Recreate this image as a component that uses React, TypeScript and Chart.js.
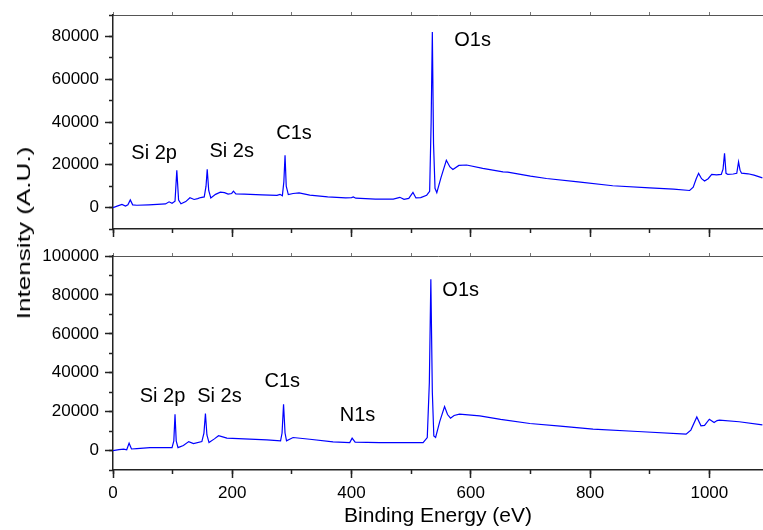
import React, { useEffect, useRef } from "react";
import { Chart, registerables } from "chart.js";

Chart.register(...registerables);

const FONT = '"Liberation Sans", Arial, Helvetica, sans-serif';

// [binding energy (eV), intensity]
const topSpectrum: [number, number][] = [
  [0, 0], [8, 800], [15, 1500], [21, 700], [25, 1300], [29, 3600], [33, 1300], [40, 1100],
  [60, 1300], [88, 1700], [94, 2700], [99, 2000], [104, 3000], [107, 17400], [110, 3500],
  [114, 1800], [122, 2800], [129, 4600], [136, 3800], [142, 4200], [147, 4700], [153, 5000],
  [156, 10000], [158, 17900], [160.5, 8000], [164, 4500], [172, 6200], [180, 7200], [187, 7000],
  [193, 6300], [199, 6600], [202, 7700], [206, 6400], [220, 6300], [250, 5900], [275, 5700],
  [280, 6200], [284, 5500], [286.5, 12000], [288.5, 24500], [290.5, 10000], [294, 6100],
  [302, 6600], [312, 6900], [330, 5800], [360, 5000], [390, 4500], [400, 4700], [403, 5000],
  [407, 4400], [440, 4000], [470, 4000], [481, 4800], [488, 3900], [496, 4300], [503, 7100],
  [508, 4500], [516, 4700], [526, 5800], [531, 7600], [533.5, 40000], [535.5, 82000],
  [537.5, 30000], [540, 9000], [543, 7000], [550, 14000], [559, 22100], [565, 19000],
  [570, 17800], [580, 19700], [593, 19900], [620, 18300], [654, 16700], [662, 16600],
  [700, 14700], [727, 13600], [780, 12000], [838, 10200], [900, 9200], [940, 8600],
  [967, 8000], [973, 9500], [978, 13500], [982, 16000], [987, 13500], [992, 12400],
  [998, 13500], [1004, 15500], [1012, 15300], [1020, 15500], [1023, 18000], [1025.5, 25400],
  [1028, 16000], [1031, 15500], [1040, 15700], [1046, 16000], [1049, 21400], [1051.5, 17500],
  [1054, 16100], [1065, 15800], [1075, 15200], [1089, 13900],
];

const bottomSpectrum: [number, number][] = [
  [0, 0], [10, 500], [18, 700], [23, 400], [27, 3800], [31, 800], [40, 1000], [62, 1500],
  [99, 1500], [102, 5000], [104, 18700], [106, 5000], [109, 1500], [118, 2600], [127, 4600],
  [135, 3600], [149, 4600], [152.5, 9000], [155, 19000], [157.5, 8000], [161, 4100],
  [170, 6000], [177, 7600], [184, 7000], [191, 6400], [258, 5500], [281, 5000], [283.5, 9000],
  [286, 23800], [288.5, 9000], [291, 5000], [302, 6700], [330, 5800], [369, 4500], [397, 4100],
  [401, 6400], [406, 4300], [447, 4100], [520, 4100], [527, 6700], [530.5, 35000],
  [533, 88100], [535.5, 30000], [538, 7500], [541, 6700], [548, 15000], [556, 22600],
  [561, 18500], [566, 16600], [572, 18000], [581, 18700], [615, 17800], [650, 16000],
  [699, 13900], [750, 12600], [805, 11000], [880, 9800], [961, 8400], [969, 10500],
  [979, 17300], [986, 12700], [992, 12900], [1000, 16100], [1008, 14400], [1013, 15400],
  [1017, 15600], [1050, 14800], [1089, 13200],
];

const xMajorTicks = [0, 200, 400, 600, 800, 1000];
const xMinorTicks = [0, 100, 200, 300, 400, 500, 600, 700, 800, 900, 1000];
const topYMajorTicks = [0, 20000, 40000, 60000, 80000];
const topYMinorTicks = [-10000, 0, 10000, 20000, 30000, 40000, 50000, 60000, 70000, 80000, 90000];
const bottomYMajorTicks = [0, 20000, 40000, 60000, 80000, 100000];
const bottomYMinorTicks = [-10000, 0, 10000, 20000, 30000, 40000, 50000, 60000, 70000, 80000, 90000, 100000];

// peak annotations: [text, energy, intensity]
const topPeakLabels: [string, number, number][] = [
  ["Si 2p", 69, 25500],
  ["Si 2s", 199, 26300],
  ["C1s", 303.5, 34400],
  ["O1s", 603, 78000],
];
const bottomPeakLabels: [string, number, number][] = [
  ["Si 2p", 83, 27600],
  ["Si 2s", 178.5, 27600],
  ["C1s", 283.8, 35400],
  ["N1s", 410, 17800],
  ["O1s", 583, 82500],
];

const X_MIN = 0;
const X_MAX = 1090;

type PanelOpts = {
  spectrum: [number, number][];
  yMin: number;
  yMax: number;
  yMajor: number[];
  yMinor: number[];
  labels: [string, number, number][];
  showX: boolean;
  bottomHeight: number;
};

function makeChart(canvas: HTMLCanvasElement, o: PanelOpts) {
  const axisColor = "#222";
  const setTicks = (vals: number[]) => (s: any) => {
    s.ticks = vals.map((v) => ({ value: v }));
  };
  const labelPlugin = {
    id: "peakLabels",
    afterDatasetsDraw(chart: any) {
      const { ctx, scales } = chart;
      ctx.save();
      ctx.font = `20px ${FONT}`;
      ctx.fillStyle = "#000";
      ctx.textAlign = "center";
      ctx.textBaseline = "middle";
      for (const [t, x, y] of o.labels) {
        ctx.fillText(t, scales.x.getPixelForValue(x), scales.y.getPixelForValue(y));
      }
      ctx.restore();
    },
  };
  return new Chart(canvas, {
    type: "line",
    data: {
      datasets: [
        {
          data: o.spectrum.map(([x, y]) => ({ x, y })),
          borderColor: "#0000ff",
          borderWidth: 1.2,
          pointRadius: 0,
          tension: 0,
          fill: false,
        },
      ],
    },
    options: {
      responsive: false,
      animation: false,
      parsing: false as any,
      layout: { padding: 0, autoPadding: false },
      plugins: { legend: { display: false }, tooltip: { enabled: false } },
      scales: {
        x: {
          type: "linear",
          position: "bottom",
          weight: 1,
          min: X_MIN,
          max: X_MAX,
          afterBuildTicks: setTicks(xMajorTicks),
          afterFit: (s: any) => {
            s.height = o.bottomHeight;
            s.paddingLeft = 0;
            s.paddingRight = 0;
          },
          grid: { display: true, drawOnChartArea: false, drawTicks: true, tickLength: 8, tickColor: axisColor, tickWidth: 1.5 },
          border: { display: true, color: axisColor, width: 1.5 },
          ticks: {
            display: o.showX,
            autoSkip: false,
            maxRotation: 0,
            padding: 5,
            color: "#000",
            font: { family: FONT, size: 17 },
            callback: (v: any) => String(v),
          },
          title: {
            display: o.showX,
            text: "Binding Energy (eV)",
            color: "#000",
            font: { family: FONT, size: 21 },
            padding: { top: 0, bottom: 2 },
          },
        },
        xMinor: {
          type: "linear",
          position: "bottom",
          weight: 0,
          min: X_MIN,
          max: X_MAX,
          afterBuildTicks: setTicks(xMinorTicks),
          afterFit: (s: any) => {
            s.height = 0;
            s.paddingLeft = 0;
            s.paddingRight = 0;
          },
          grid: { display: true, drawOnChartArea: false, drawTicks: true, tickLength: 4, tickColor: axisColor, tickWidth: 1.5 },
          border: { display: false },
          ticks: { display: false },
        },
        xTop: {
          type: "linear",
          position: "top",
          min: X_MIN,
          max: X_MAX,
          afterBuildTicks: setTicks(xMinorTicks),
          afterFit: (s: any) => {
            s.height = 15;
            s.paddingLeft = 0;
            s.paddingRight = 0;
          },
          grid: { display: true, drawOnChartArea: false, drawTicks: true, tickLength: 3, tickColor: "#777", tickWidth: 1 },
          border: { display: true, color: "#555", width: 1 },
          ticks: { display: false },
        },
        y: {
          type: "linear",
          position: "left",
          weight: 1,
          min: o.yMin,
          max: o.yMax,
          afterBuildTicks: setTicks(o.yMajor),
          afterFit: (s: any) => {
            s.width = 113;
            s.paddingTop = 0;
            s.paddingBottom = 0;
          },
          grid: { display: true, drawOnChartArea: false, drawTicks: true, tickLength: 8, tickColor: axisColor, tickWidth: 1.5 },
          border: { display: true, color: axisColor, width: 1.5 },
          ticks: {
            padding: 6,
            color: "#000",
            font: { family: FONT, size: 17 },
            callback: (v: any) => String(v),
          },
        },
        yMinor: {
          type: "linear",
          position: "left",
          weight: 0,
          min: o.yMin,
          max: o.yMax,
          afterBuildTicks: setTicks(o.yMinor),
          afterFit: (s: any) => {
            s.width = 0;
            s.paddingTop = 0;
            s.paddingBottom = 0;
          },
          grid: { display: true, drawOnChartArea: false, drawTicks: true, tickLength: 4, tickColor: axisColor, tickWidth: 1.5 },
          border: { display: false },
          ticks: { display: false },
        },
      },
    } as any,
    plugins: [labelPlugin],
  });
}

export default function App() {
  const topRef = useRef<HTMLCanvasElement | null>(null);
  const bottomRef = useRef<HTMLCanvasElement | null>(null);

  useEffect(() => {
    const top = makeChart(topRef.current!, {
      spectrum: topSpectrum,
      yMin: -10000,
      yMax: 90000,
      yMajor: topYMajorTicks,
      yMinor: topYMinorTicks,
      labels: topPeakLabels,
      showX: false,
      bottomHeight: 11,
    });
    const bottom = makeChart(bottomRef.current!, {
      spectrum: bottomSpectrum,
      yMin: -10000,
      yMax: 100000,
      yMajor: bottomYMajorTicks,
      yMinor: bottomYMinorTicks,
      labels: bottomPeakLabels,
      showX: true,
      bottomHeight: 61,
    });
    return () => {
      top.destroy();
      bottom.destroy();
    };
  }, []);

  return (
    <div style={{ position: "fixed", left: 0, top: 0, width: 763, height: 530, background: "#fff", overflow: "hidden" }}>
      <canvas ref={topRef} width={763} height={240} style={{ position: "absolute", left: 0, top: 0 }} />
      <canvas ref={bottomRef} width={763} height={290} style={{ position: "absolute", left: 0, top: 241 }} />
      <div
        style={{
          position: "absolute",
          left: 24,
          top: 233,
          transform: "translate(-50%, -50%) rotate(-90deg) scaleX(1.45)",
          whiteSpace: "nowrap",
          fontFamily: FONT,
          fontSize: 18,
          lineHeight: "18px",
          color: "#000",
        }}
      >
        Intensity (A.U.)
      </div>
    </div>
  );
}
